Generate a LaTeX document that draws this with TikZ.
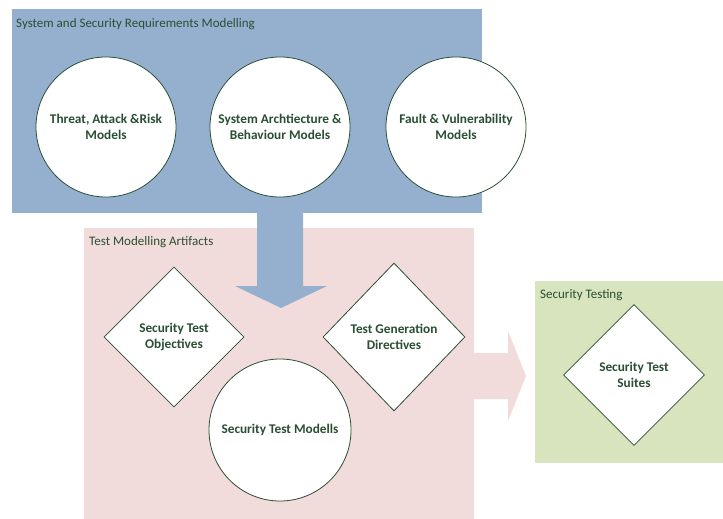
\documentclass[tikz,border=0pt]{standalone}
\usepackage{fontspec}
\setmainfont{Carlito}
\usetikzlibrary{shapes.geometric}
\definecolor{reqblue}{RGB}{149,176,207}
\definecolor{artpink}{RGB}{242,220,219}
\definecolor{testgreen}{RGB}{215,228,189}
\definecolor{darkgreen}{RGB}{42,78,52}
\tikzset{
  model/.style={circle,draw=darkgreen,fill=white,line width=0.8pt,minimum size=140pt,inner sep=0pt,align=center,text=darkgreen,font=\fontsize{13.3}{16}\selectfont\bfseries},
  artifact/.style={diamond,draw=darkgreen,fill=white,line width=0.8pt,minimum width=140pt,minimum height=140pt,inner sep=0pt,align=center,text=darkgreen,font=\fontsize{13.3}{16}\selectfont\bfseries},
  grouplabel/.style={anchor=west,text=darkgreen,inner sep=0pt,font=\fontsize{13}{15}\selectfont}
}

\begin{document}
\begin{tikzpicture}[x=1pt,y=-1pt]
        \useasboundingbox (0,0) rectangle (723,519);
        \fill[reqblue] (12,9) rectangle (482,213);
        \fill[artpink] (84,228) rectangle (474,519);
        \fill[testgreen] (535,281) rectangle (723,463);

        \node[grouplabel] (reqlabel) at (16,24) {System and Security Requirements Modelling};
        \node[grouplabel] (artlabel) at (89,242) {Test Modelling Artifacts};
        \node[grouplabel] (testlabel) at (540,295) {Security Testing};

        \fill[artpink] (470,353)--(508,353)--(508,331)--(526,376)--(508,421)--(508,399)--(470,399)--cycle;
        \fill[reqblue] (257,211)--(303,211)--(303,286)--(327,286)--(281,308)--(235,286)--(257,286)--cycle;

        \node[model] (threat) at (106,127) {Threat, Attack \&Risk\\Models};
        \node[model] (system) at (280,127) {System Archtiecture \&\\Behaviour Models};
        \node[model] (fault) at (456,127) {Fault \& Vulnerability\\Models};

        \node[artifact] (objectives) at (174,337) {Security Test\\Objectives};
        \node[artifact,minimum width=142pt,minimum height=148pt] (directives) at (394,337) {Test Generation\\Directives};
        \node[model,minimum size=142pt] (testmodels) at (280,430) {Security Test Modells};

        \node[artifact,minimum width=141pt,minimum height=141pt] (suites) at (634,375) {Security Test\\Suites};
\end{tikzpicture}
\end{document}
